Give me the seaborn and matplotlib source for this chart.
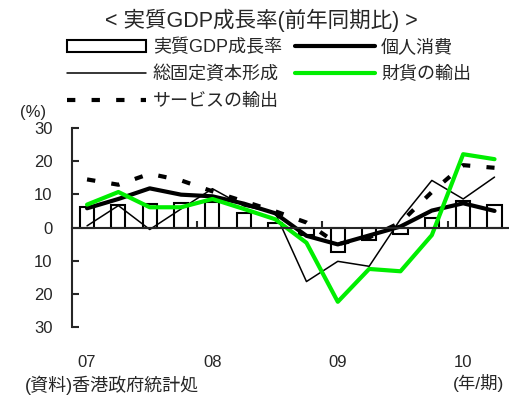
import numpy as np
import pandas as pd
import matplotlib
matplotlib.use("Agg")
import matplotlib.pyplot as plt
import seaborn as sns
from matplotlib.patches import Patch
from matplotlib.lines import Line2D

# ---- data (2007Q1 .. 2010Q2) ----
quarters = ["07Q1", "07Q2", "07Q3", "07Q4", "08Q1", "08Q2", "08Q3", "08Q4",
            "09Q1", "09Q2", "09Q3", "09Q4", "10Q1", "10Q2"]
gdp = [6.1, 6.7, 7.0, 7.3, 7.6, 4.3, 1.3, -2.4, -7.4, -3.7, -1.9, 2.9, 8.1, 6.8]
consumption = [5.8, 8.6, 11.8, 9.9, 9.4, 7.2, 4.3, -2.5, -5.1, -2.4, 0.3, 5.1, 7.3, 5.0]
gfcf = [0.5, 6.6, -0.6, 5.6, 11.7, 6.5, 4.5, -16.3, -10.2, -11.7, 2.5, 14.2, 8.6, 15.2]
goods_exports = [6.9, 10.7, 6.1, 6.1, 8.6, 5.6, 2.5, -4.6, -22.4, -12.5, -13.2, -2.3, 22.1, 20.6]
services_exports = [14.5, 12.9, 16.2, 14.2, 10.9, 7.9, 4.9, 1.5, -5.0, -3.0, 1.5, 10.7, 18.8, 18.0]

year_labels = ["07", "08", "09", "10"]
y_ticks = [-30, -20, -10, 0, 10, 20, 30]
y_tick_labels = ["30", "20", "10", "0", "10", "20", "30"]

legend_labels = ["実質GDP成長率", "総固定資本形成", "サービスの輸出", "個人消費", "財貨の輸出"]

df = pd.DataFrame({
    "idx": np.arange(len(quarters)),
    "gdp": gdp,
    "consumption": consumption,
    "gfcf": gfcf,
    "goods": goods_exports,
    "services": services_exports,
})

sns.set_style("white")
plt.rcParams["font.family"] = ["Liberation Sans", "Noto Sans CJK JP"]

W, H = 509, 396
fig = plt.figure(figsize=(W / 100, H / 100), dpi=100)
ax = fig.add_axes([72 / W, 69 / H, 436 / W, 199 / H])

GREEN = "#00ee00"

sns.barplot(data=df, x="idx", y="gdp", ax=ax, color="white", edgecolor="black",
            linewidth=1.5, width=0.45, saturation=1, zorder=2)
sns.lineplot(data=df, x="idx", y="gfcf", ax=ax, color="black", linewidth=1.1, zorder=3)
sns.lineplot(data=df, x="idx", y="consumption", ax=ax, color="black", linewidth=3.0, zorder=4)
sns.lineplot(data=df, x="idx", y="goods", ax=ax, color=GREEN, linewidth=3.0, zorder=5)
sns.lineplot(data=df, x="idx", y="services", ax=ax, color="black", linewidth=3.0,
             linestyle=(0, (2.0, 3.9)), dash_capstyle="butt", zorder=6)

ax.set_xlim(-0.48, 13.43)
ax.set_ylim(-30, 30)
ax.set_xlabel("")
ax.set_ylabel("")

# spines
for s in ["top", "right"]:
    ax.spines[s].set_visible(False)
ax.spines["left"].set_linewidth(1.5)
ax.spines["bottom"].set_position(("data", 0))
ax.spines["bottom"].set_linewidth(1.5)
ax.spines["bottom"].set_zorder(7)

ax.set_yticks(y_ticks)
ax.set_yticklabels(y_tick_labels)
ax.tick_params(axis="y", direction="in", length=5, width=1.5, labelsize=12, pad=14,
               left=True)
ax.set_xticks([3.5, 7.5, 11.5])
ax.tick_params(axis="x", direction="in", length=5, width=1.5, labelbottom=False, bottom=True)

secax = ax.secondary_xaxis("bottom")
secax.set_xticks([0, 4, 8, 12], labels=year_labels)
secax.tick_params(length=0, pad=20, labelsize=12)
secax.spines["bottom"].set_visible(False)

# legend
handles = [
    Patch(facecolor="white", edgecolor="black", linewidth=1.5),
    Line2D([], [], color="black", linewidth=1.1),
    Line2D([], [], color="black", linewidth=3.0, linestyle=(0, (2.0, 3.9)), dash_capstyle="butt"),
    Line2D([], [], color="black", linewidth=3.0),
    Line2D([], [], color=GREEN, linewidth=3.0),
]
fig.legend(handles, legend_labels, ncol=2, loc="upper left",
           bbox_to_anchor=(67 / W, 1 - 39 / H), frameon=False, fontsize=13,
           handlelength=4.4, handletextpad=0.35, columnspacing=0.75,
           labelspacing=0.52, borderpad=0, borderaxespad=0, handleheight=0.6)

fig.text(261 / W, 1 - 20 / H, "< 実質GDP成長率(前年同期比) >", ha="center", va="center",
         fontsize=15.5)
fig.text(33 / W, 1 - 113 / H, "(%)", ha="center", va="center", fontsize=12)
fig.text(478 / W, 1 - 383 / H, "(年/期)", ha="center", va="center", fontsize=12.5)
fig.text(25 / W, 1 - 385 / H, "(資料)香港政府統計処", ha="left", va="center", fontsize=13)

fig.savefig("out.png", dpi=100)
